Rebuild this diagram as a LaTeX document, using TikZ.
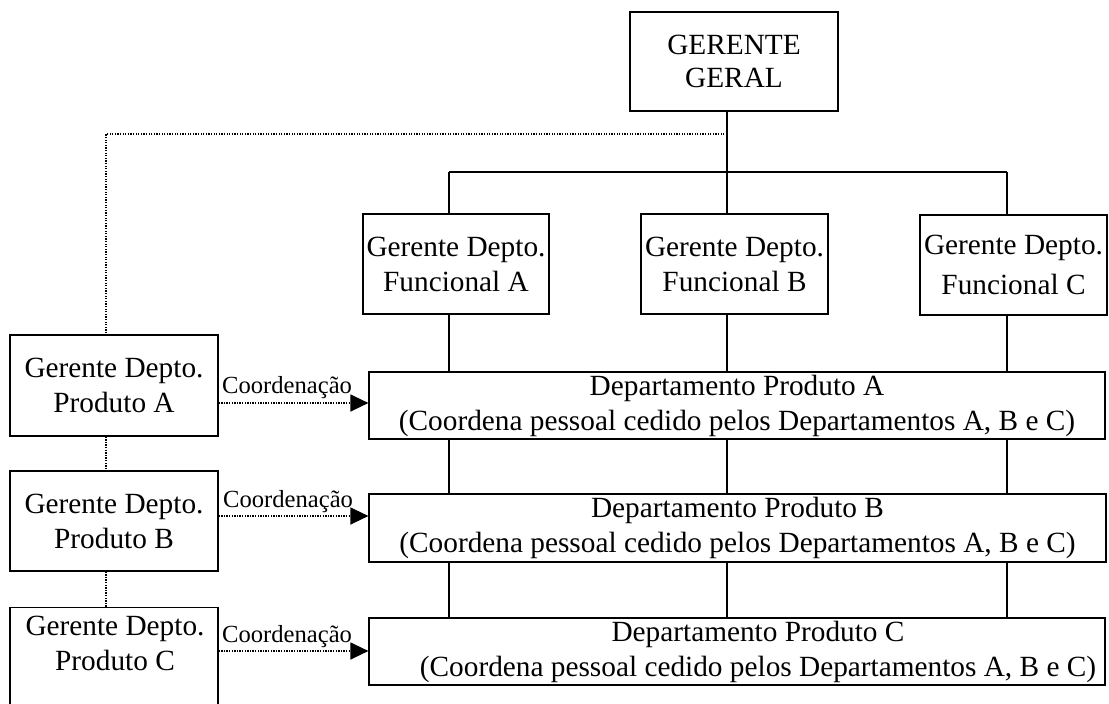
\documentclass[tikz,border=0pt]{standalone}
\usepackage{fontspec}
\setmainfont{Liberation Serif}
\usetikzlibrary{arrows.meta}
\begin{document}
\begin{tikzpicture}[x=1pt,y=-1pt,
  box/.style={draw, line width=1.2pt, inner sep=0pt, align=center,
    font=\fontsize{29.3}{35}\selectfont},
  boxtext/.style={inner sep=0pt, align=center, font=\fontsize{29.3}{35}\selectfont},
  solidline/.style={line width=1.2pt},
  dotline/.style={line width=1.3pt, dash pattern=on 1.3pt off 1.3pt},
  coordarrow/.style={dotline, -{Triangle[length=18pt,width=17pt]}},
  lbl/.style={inner sep=0pt, font=\fontsize{24.6}{29}\selectfont}]
\useasboundingbox (0,0) rectangle (1109,704);
\clip (0,0) rectangle (1109,704);
\fill[white] (0,0) rectangle (1109,704);

% top manager
\node[box, font=\fontsize{29.3}{33}\selectfont, minimum width=208pt, minimum height=99pt]
  (gg) at (734,61.5) {GERENTE\\GERAL};

% functional managers
\node[box, minimum width=186pt, minimum height=100pt] (fa) at (456,264)
  {Gerente Depto.\\Funcional A};
\node[box, minimum width=187pt, minimum height=100pt] (fb) at (734.5,264)
  {Gerente Depto.\\Funcional B};
\node[box, font=\fontsize{29.3}{40}\selectfont, minimum width=187pt, minimum height=100pt]
  (fc) at (1013.5,265) {Gerente Depto.\\Funcional C};

% product managers
\node[box, minimum width=208pt, minimum height=101pt] (pa) at (114,385.5)
  {Gerente Depto.\\Produto A};
\node[box, minimum width=208pt, minimum height=100pt] (pb) at (114,521)
  {Gerente Depto.\\Produto B};
\node[box, minimum width=208pt, minimum height=140pt, anchor=north] (pc) at (114,607) {};
\node[boxtext] (pctext) at (115,643) {Gerente Depto.\\Produto C};

% product departments
\node[box, minimum width=736pt, minimum height=67pt] (da) at (737,405.5)
  {Departamento Produto A\\(Coordena pessoal cedido pelos Departamentos A, B e C)};
\node[box, minimum width=737pt, minimum height=68pt] (db) at (737.5,528)
  {Departamento Produto B\\(Coordena pessoal cedido pelos Departamentos A, B e C)};
\node[box, minimum width=736pt, minimum height=67pt] (dc) at (737,651.5) {};
\node[boxtext] (dctext) at (758,651.5)
  {Departamento Produto C\\(Coordena pessoal cedido pelos Departamentos A, B e C)};

% solid hierarchy lines
\coordinate (busl) at (449,172);
\coordinate (busm) at (727,172);
\coordinate (busr) at (1007,172);
\draw[solidline] (busm |- gg.south) -- (busm);
\draw[solidline] (busl) -- (busr);
\draw[solidline] (busl) -- (busl |- fa.north);
\draw[solidline] (busm) -- (busm |- fb.north);
\draw[solidline] (busr) -- (busr |- fc.north);
\foreach \c/\f in {busl/fa, busm/fb, busr/fc}{
  \draw[solidline] (\c |- \f.south) -- (\c |- da.north);
  \draw[solidline] (\c |- da.south) -- (\c |- db.north);
  \draw[solidline] (\c |- db.south) -- (\c |- dc.north);
}

% dotted line of the product managers
\coordinate (dtop) at (106,134);
\draw[dotline] (busm |- dtop) -- (dtop) -- (dtop |- pa.north);
\draw[dotline] (dtop |- pa.south) -- (dtop |- pb.north);
\draw[dotline] (dtop |- pb.south) -- (dtop |- pc.north);

% coordination arrows
\coordinate (ya) at (0,403);
\coordinate (yb) at (0,516);
\coordinate (yc) at (0,651);
\draw[coordarrow] (pa.east |- ya) -- (da.west |- ya);
\draw[coordarrow] (pb.east |- yb) -- (db.west |- yb);
\draw[coordarrow] (pc.east |- yc) -- (dc.west |- yc);
\node[lbl, anchor=base west] (ca) at (222,393) {Coordenação};
\node[lbl, anchor=base west] (cb) at (223,507) {Coordenação};
\node[lbl, anchor=base west] (cc) at (222,642) {Coordenação};
\end{tikzpicture}
\end{document}
